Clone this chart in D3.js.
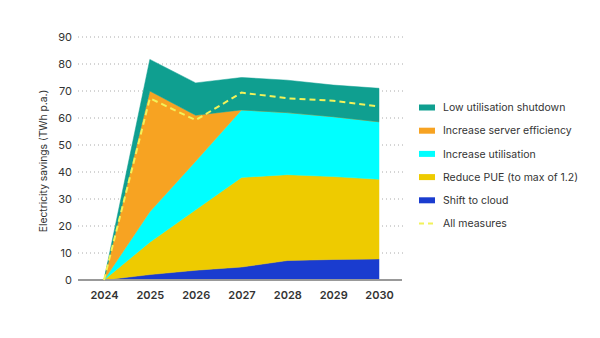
<!DOCTYPE html>
<meta charset="utf-8">
<script src="https://d3js.org/d3.v7.min.js"></script>
<style>
  body { margin: 0; background: #fff; }
  text { font-family: Inter, "Noto Sans", sans-serif; fill: #333; }
</style>
<body>
<div id="my_dataviz"></div>
</body>
<script>

  var years = ["2024", "2025", "2026", "2027", "2028", "2029", "2030"];
  var seriesNames = ["Shift to cloud", "Reduce PUE (to max of 1.2)", "Increase utilisation",
                     "Increase server efficiency", "Low utilisation shutdown"];
  var shiftToCloud    = [0, 2.0, 3.6, 4.8, 7.2, 7.6, 7.8];
  var reducePUE       = [0, 12.0, 22.4, 33.2, 31.8, 30.7, 29.5];
  var incUtilisation  = [0, 11.3, 18.0, 25.0, 23.0, 22.2, 21.3];
  var serverEff       = [0, 44.7, 17.0, 0, 0, 0, 0];
  var lowUtilShutdown = [0, 11.7, 12.0, 12.0, 12.0, 11.7, 12.4];
  var allMeasures     = [0, 67.3, 59.2, 69.4, 67.3, 66.4, 64.3];
  var yTicks = [0, 10, 20, 30, 40, 50, 60, 70, 80, 90];

  var colors = ["#1a3ccf", "#eecb00", "#00ffff", "#f7a322", "#0f9f90"];

  var width = 600, height = 338;

  const svg = d3.select("#my_dataviz")
    .append("svg")
      .attr("width", width)
      .attr("height", height);

  // long table for the stack
  var table = years.map(function(yr, i) {
    return {
      year: yr,
      "Shift to cloud": shiftToCloud[i],
      "Reduce PUE (to max of 1.2)": reducePUE[i],
      "Increase utilisation": incUtilisation[i],
      "Increase server efficiency": serverEff[i],
      "Low utilisation shutdown": lowUtilShutdown[i]
    };
  });

  const x = d3.scalePoint().domain(years).range([104, 379]);
  const y = d3.scaleLinear().domain([0, 90]).range([280, 37]);

  // dotted gridlines
  svg.append("g")
    .selectAll("line")
    .data(yTicks.filter(function(d) { return d > 0; }))
    .join("line")
      .attr("x1", 78).attr("x2", 403)
      .attr("y1", function(d) { return y(d); })
      .attr("y2", function(d) { return y(d); })
      .style("stroke", "#aaa")
      .style("stroke-width", 1)
      .style("stroke-dasharray", "1,3");

  const stack = d3.stack().keys(seriesNames);
  const layers = stack(table);

  const area = d3.area()
    .x(function(d) { return x(d.data.year); })
    .y0(function(d) { return y(d[0]); })
    .y1(function(d) { return y(d[1]); });

  svg.append("g")
    .selectAll("path")
    .data(layers)
    .join("path")
      .attr("d", area)
      .style("fill", function(d, i) { return colors[i]; })
      .style("stroke", function(d, i) { return colors[i]; })
      .style("stroke-width", 0.5);

  // baseline
  svg.append("line")
    .attr("x1", 78).attr("x2", 402)
    .attr("y1", y(0)).attr("y2", y(0))
    .style("stroke", "#999")
    .style("stroke-width", 2);

  // all measures dashed line
  const line = d3.line()
    .x(function(d, i) { return x(years[i]); })
    .y(function(d) { return y(d); });

  svg.append("path")
    .datum(allMeasures)
    .attr("d", line)
    .style("fill", "none")
    .style("stroke", "#f2f25a")
    .style("stroke-width", 2)
    .style("stroke-dasharray", "6,4");

  // y axis
  const yAxis = svg.append("g")
    .attr("transform", "translate(78,0)")
    .call(d3.axisLeft(y).tickValues(yTicks).tickSize(0).tickPadding(6));
  yAxis.select(".domain").remove();
  yAxis.selectAll("text")
    .style("font-size", "11px")
    .style("font-family", "Inter, sans-serif")
    .style("fill", "#333");

  // x axis
  const xAxis = svg.append("g")
    .attr("transform", "translate(0," + 280 + ")")
    .call(d3.axisBottom(x).tickSize(0).tickPadding(11));
  xAxis.select(".domain").remove();
  xAxis.selectAll("text")
    .style("font-size", "11px")
    .style("font-weight", "600")
    .style("font-family", "Inter, sans-serif")
    .style("fill", "#333");

  svg.append("text")
    .attr("transform", "translate(47," + 161 + ") rotate(-90)")
    .style("text-anchor", "middle")
    .style("font-size", "10.3px")
    .text("Electricity savings (TWh p.a.)");

  // legend
  var legendItems = seriesNames.slice().reverse().concat(["All measures"]);
  var legendColors = colors.slice().reverse().concat(["#f2f25a"]);

  const legend = svg.append("g")
    .selectAll("g")
    .data(legendItems)
    .join("g")
      .attr("transform", function(d, i) { return "translate(419," + (107.5 + i * 23.2) + ")"; });

  legend.each(function(d, i) {
    var g = d3.select(this);
    if (d == "All measures") {
      g.append("line")
        .attr("x1", 0).attr("x2", 16).attr("y1", 0).attr("y2", 0)
        .style("stroke", legendColors[i])
        .style("stroke-width", 2)
        .style("stroke-dasharray", "5,4");
    } else {
      g.append("rect")
        .attr("x", 0).attr("y", -3).attr("width", 16).attr("height", 6)
        .style("fill", legendColors[i]);
    }
  });

  legend.append("text")
    .attr("x", 24)
    .attr("dy", "0.35em")
    .style("font-size", "10.5px")
    .text(function(d) { return d; });

</script>
